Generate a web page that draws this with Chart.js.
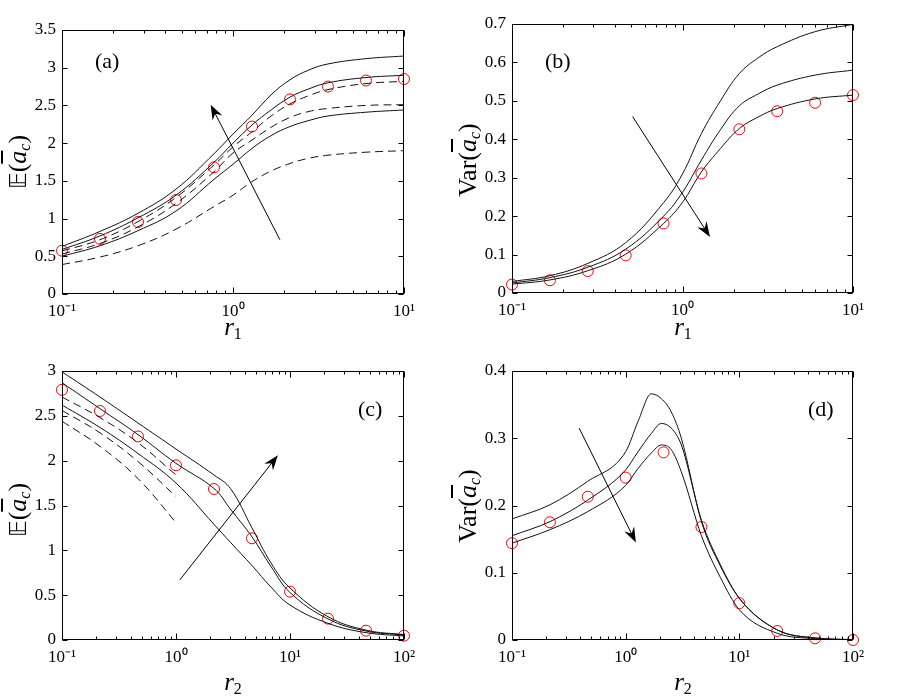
<!DOCTYPE html>
<html>
<head>
<meta charset="utf-8">
<script src="https://cdn.jsdelivr.net/npm/chart.js@4.4.1/dist/chart.umd.min.js"></script>
<style>
  body { margin: 0; background: #fff; }
  #wrap { position: relative; width: 900px; height: 698px; overflow: hidden; }
  canvas { position: absolute; }
  .lab { position: absolute; font-family: "Liberation Serif", "DejaVu Serif", serif; color: #000; white-space: nowrap; line-height: 1; }
  .yt { transform: translate(-50%, -50%) rotate(-90deg); font-size: 26px; }
  .xt { transform: translate(-50%, -50%); font-size: 25px; }
  .pl { font-size: 22px; }
  .bb { font-family: "DejaVu Sans", "DejaVu Serif", serif; font-size: 23px; }
  .ov { text-decoration: overline; font-style: italic; }
  sub { font-size: 16px; vertical-align: -4px; }
  sub.it { font-style: italic; }
</style>
</head>
<body>
<div id="wrap">
  <canvas id="pa" width="450" height="340" style="left:0;top:0"></canvas>
  <canvas id="pb" width="450" height="340" style="left:450px;top:0"></canvas>
  <canvas id="pc" width="450" height="358" style="left:0;top:340px"></canvas>
  <canvas id="pd" width="450" height="358" style="left:450px;top:340px"></canvas>

  <div class="lab yt" style="left:19px;top:162px"><span class="bb">𝔼</span>(<span class="ov">a</span><sub class="it">c</sub>)</div>
  <div class="lab yt" style="left:469px;top:160px">Var(<span class="ov">a</span><sub class="it">c</sub>)</div>
  <div class="lab yt" style="left:19px;top:510px"><span class="bb">𝔼</span>(<span class="ov">a</span><sub class="it">c</sub>)</div>
  <div class="lab yt" style="left:469px;top:506px">Var(<span class="ov">a</span><sub class="it">c</sub>)</div>

  <div class="lab xt" style="left:233px;top:328px"><i>r</i><sub>1</sub></div>
  <div class="lab xt" style="left:683px;top:328px"><i>r</i><sub>1</sub></div>
  <div class="lab xt" style="left:233px;top:683px"><i>r</i><sub>2</sub></div>
  <div class="lab xt" style="left:683px;top:683px"><i>r</i><sub>2</sub></div>

  <div class="lab pl" style="left:95px;top:50px">(a)</div>
  <div class="lab pl" style="left:545px;top:50px">(b)</div>
  <div class="lab pl" style="left:358px;top:398px">(c)</div>
  <div class="lab pl" style="left:808px;top:398px">(d)</div>
</div>

<script>
// ---- data: top row, sweep in r1 ----
const r1Marks = [0.1, 0.1668, 0.2783, 0.4642, 0.7743, 1.2915, 2.1544, 3.5938, 5.9948, 10];
const r1Curve = [0.1, 0.1668, 0.2783, 0.4642, 0.7743, 1.0, 1.2915, 1.67, 2.1544, 2.78, 3.5938, 5.9948, 10];

// (a) mean
const aMarks  = [0.574, 0.73, 0.955, 1.246, 1.68, 2.22, 2.58, 2.75, 2.83, 2.85];
const aSolid1 = [0.63, 0.83, 1.07, 1.39, 1.86, 2.12, 2.37, 2.64, 2.84, 2.97, 3.05, 3.12, 3.155];
const aSolid2 = [0.59, 0.77, 1.01, 1.31, 1.745, 2.0, 2.24, 2.44, 2.61, 2.72, 2.80, 2.87, 2.90];
const aSolid3 = [0.50, 0.64, 0.84, 1.10, 1.52, 1.72, 1.93, 2.10, 2.22, 2.30, 2.36, 2.41, 2.44];
const aDash1  = [0.57, 0.72, 0.96, 1.28, 1.71, 1.95, 2.15, 2.36, 2.52, 2.63, 2.71, 2.79, 2.82];
const aDash2  = [0.53, 0.67, 0.89, 1.20, 1.62, 1.87, 2.04, 2.21, 2.34, 2.42, 2.46, 2.50, 2.51];
const aDash3  = [0.39, 0.49, 0.64, 0.86, 1.16, 1.31, 1.49, 1.63, 1.73, 1.80, 1.84, 1.88, 1.90];

// (b) variance
const bMarks  = [0.022, 0.033, 0.057, 0.098, 0.181, 0.311, 0.426, 0.473, 0.495, 0.515];
const bSolid1 = [0.030, 0.045, 0.077, 0.131, 0.235, 0.310, 0.415, 0.500, 0.571, 0.612, 0.641, 0.680, 0.699];
const bSolid2 = [0.026, 0.040, 0.067, 0.114, 0.200, 0.262, 0.346, 0.425, 0.487, 0.518, 0.541, 0.567, 0.580];
const bSolid3 = [0.023, 0.034, 0.058, 0.101, 0.181, 0.236, 0.315, 0.376, 0.428, 0.458, 0.480, 0.505, 0.515];

// ---- data: bottom row, sweep in r2 ----
const r2Marks = [0.1, 0.2154, 0.4642, 1, 2.1544, 4.6416, 10, 21.544, 46.416, 100];
const r2CurveC = [0.1, 0.2154, 0.4642, 1, 2.1544, 3.0, 4.6416, 6.81, 10, 21.544, 46.416, 100];
const r2DashC = [0.1, 0.2154, 0.4642, 1];
const r2CurveD = [0.1, 0.2154, 0.4642, 1, 1.285, 1.68, 2.06, 2.52, 3.09, 4.6416, 6.81, 10, 21.544, 46.416, 100];

// (c) mean
const cMarks  = [2.79, 2.554, 2.27, 1.948, 1.684, 1.134, 0.539, 0.238, 0.104, 0.048];
const cSolid1 = [2.99, 2.71, 2.42, 2.13, 1.84, 1.69, 1.25, 0.86, 0.58, 0.26, 0.11, 0.06];
const cSolid2 = [2.87, 2.58, 2.29, 1.97, 1.69, 1.46, 1.15, 0.82, 0.53, 0.235, 0.10, 0.055];
const cSolid3 = [2.62, 2.37, 2.08, 1.75, 1.29, 1.09, 0.83, 0.59, 0.39, 0.186, 0.082, 0.045];
const cDash1  = [2.71, 2.48, 2.20, 1.84];
const cDash2  = [2.56, 2.31, 1.99, 1.60];
const cDash3  = [2.44, 2.16, 1.80, 1.31];

// (d) variance
const dMarks  = [0.144, 0.175, 0.213, 0.2415, 0.279, 0.168, 0.0547, 0.0134, 0.0025, 0.0];
const dSolid1 = [0.180, 0.201, 0.236, 0.280, 0.325, 0.366, 0.359, 0.339, 0.300, 0.176, 0.110, 0.062, 0.015, 0.003, 0.0005];
const dSolid2 = [0.155, 0.176, 0.208, 0.253, 0.280, 0.307, 0.322, 0.315, 0.290, 0.178, 0.112, 0.062, 0.015, 0.003, 0.0005];
const dSolid3 = [0.144, 0.164, 0.191, 0.230, 0.255, 0.278, 0.290, 0.283, 0.250, 0.155, 0.093, 0.045, 0.010, 0.002, 0.0003];

// arrows (data coordinates, tail -> head)
const arrowA = { x1: 1.88, y1: 0.72, x2: 0.74, y2: 2.51 };
const arrowB = { x1: 0.51, y1: 0.459, x2: 1.45, y2: 0.146 };
const arrowC = { x1: 1.08, y1: 0.67, x2: 7.83, y2: 2.06 };
const arrowD = { x1: 0.39, y1: 0.315, x2: 1.23, y2: 0.145 };

const FONT = 'Liberation Serif';
const SUP = { '-': '\u207B', '0': '\u2070', '1': '\u00B9', '2': '\u00B2', '3': '\u00B3' };

const pts = (xs, ys) => xs.map((x, i) => ({ x: x, y: ys[i] }));

function curve(xs, ys, dashed, mono) {
    return {
        data: pts(xs, ys),
        borderColor: '#111',
        borderWidth: 1,
        borderDash: dashed ? [8, 5] : [],
        pointRadius: 0,
        tension: 0.4,
        cubicInterpolationMode: mono ? 'monotone' : 'default',
        fill: false
    };
}

function marks(xs, ys) {
    return {
        data: pts(xs, ys),
        showLine: false,
        borderColor: '#ff0000',
        pointStyle: 'circle',
        pointRadius: 5.5,
        pointBorderColor: '#ff0000',
        pointBackgroundColor: 'rgba(0,0,0,0)',
        pointBorderWidth: 1,
        clip: false
    };
}

function tenLabel(v) {
    const e = Math.round(Math.log10(v));
    return '10' + String(e).split('').map(c => SUP[c]).join('');
}

// box around the plot with inward ticks, like the original figure
const framePlugin = {
    id: 'frame',
    afterDraw(chart) {
        const { ctx, chartArea: a, scales } = chart;
        const x = scales.x, y = scales.y;
        const L = Math.round(a.left) + 0.5, R = Math.round(a.right) - 0.5;
        const T = Math.round(a.top) + 0.5, B = Math.round(a.bottom) - 0.5;
        ctx.save();
        ctx.strokeStyle = '#000';
        ctx.lineWidth = 1;
        ctx.beginPath();
        y.ticks.forEach(t => {
            const py = Math.round(y.getPixelForValue(t.value)) + 0.5;
            ctx.moveTo(L, py); ctx.lineTo(L + 5, py);
            ctx.moveTo(R, py); ctx.lineTo(R - 5, py);
        });
        const d0 = Math.floor(Math.log10(x.min) + 1e-9), d1 = Math.ceil(Math.log10(x.max) - 1e-9);
        for (let d = d0; d <= d1; d++) {
            for (let m = 1; m <= 9; m++) {
                const v = m * Math.pow(10, d);
                if (v < x.min * 0.999 || v > x.max * 1.001) continue;
                const px = Math.round(x.getPixelForValue(v)) + 0.5;
                const len = m === 1 ? 6 : 3;
                ctx.moveTo(px, B); ctx.lineTo(px, B - len);
                ctx.moveTo(px, T); ctx.lineTo(px, T + len);
            }
        }
        ctx.stroke();
        ctx.strokeRect(L, T, R - L, B - T);
        ctx.restore();
    }
};

const arrowPlugin = {
    id: 'arrow',
    afterDatasetsDraw(chart, args, opts) {
        if (!opts || opts.x1 === undefined) return;
        const { ctx, scales: { x, y } } = chart;
        const ax = x.getPixelForValue(opts.x1), ay = y.getPixelForValue(opts.y1);
        const bx = x.getPixelForValue(opts.x2), by = y.getPixelForValue(opts.y2);
        const ang = Math.atan2(by - ay, bx - ax);
        const len = 15, half = 5.5, notch = 5;
        ctx.save();
        ctx.strokeStyle = '#000';
        ctx.fillStyle = '#000';
        ctx.lineWidth = 1;
        ctx.beginPath();
        ctx.moveTo(ax, ay);
        ctx.lineTo(bx - Math.cos(ang) * notch, by - Math.sin(ang) * notch);
        ctx.stroke();
        ctx.translate(bx, by);
        ctx.rotate(ang);
        ctx.beginPath();
        ctx.moveTo(0, 0);
        ctx.lineTo(-len, -half);
        ctx.lineTo(-len + notch, 0);
        ctx.lineTo(-len, half);
        ctx.closePath();
        ctx.fill();
        ctx.restore();
    }
};

function makeChart(id, o) {
    return new Chart(document.getElementById(id), {
        type: 'line',
        data: { datasets: o.datasets },
        options: {
            responsive: false,
            animation: false,
            devicePixelRatio: 1,
            layout: { padding: { top: o.top, right: o.right, left: 0, bottom: 0 } },
            plugins: {
                legend: { display: false },
                tooltip: { enabled: false },
                arrow: o.arrow
            },
            scales: {
                x: {
                    type: 'logarithmic',
                    min: o.xMin,
                    max: o.xMax,
                    grid: { display: false, drawTicks: false },
                    border: { display: false },
                    afterBuildTicks: s => {
                        const out = [];
                        for (let v = o.xMin; v <= o.xMax * 1.001; v *= 10) out.push({ value: v });
                        s.ticks = out;
                    },
                    ticks: {
                        autoSkip: false,
                        maxRotation: 0,
                        padding: 7,
                        color: '#000',
                        font: { family: FONT, size: 17 },
                        callback: v => tenLabel(v)
                    },
                    afterFit: s => { s.height = o.xH; }
                },
                y: {
                    type: 'linear',
                    min: 0,
                    max: o.yMax,
                    grid: { display: false, drawTicks: false },
                    border: { display: false },
                    ticks: {
                        stepSize: o.step,
                        padding: 6,
                        color: '#000',
                        font: { family: FONT, size: 17 },
                        callback: v => String(+v.toFixed(2))
                    },
                    afterFit: s => { s.width = 62; }
                }
            }
        },
        plugins: [framePlugin, arrowPlugin]
    });
}

document.addEventListener('DOMContentLoaded', () => {
    makeChart('pa', {
        top: 30, right: 46, xH: 46, xMin: 0.1, xMax: 10, yMax: 3.5, step: 0.5, arrow: arrowA,
        datasets: [
            curve(r1Curve, aSolid1), curve(r1Curve, aSolid2), curve(r1Curve, aSolid3),
            curve(r1Curve, aDash1, true), curve(r1Curve, aDash2, true), curve(r1Curve, aDash3, true),
            marks(r1Marks, aMarks)
        ]
    });
    makeChart('pb', {
        top: 24, right: 47, xH: 47, xMin: 0.1, xMax: 10, yMax: 0.7, step: 0.1, arrow: arrowB,
        datasets: [
            curve(r1Curve, bSolid1), curve(r1Curve, bSolid2), curve(r1Curve, bSolid3),
            marks(r1Marks, bMarks)
        ]
    });
    makeChart('pc', {
        top: 31, right: 46, xH: 58, xMin: 0.1, xMax: 100, yMax: 3, step: 0.5, arrow: arrowC,
        datasets: [
            curve(r2CurveC, cSolid1), curve(r2CurveC, cSolid2), curve(r2CurveC, cSolid3),
            curve(r2DashC, cDash1, true), curve(r2DashC, cDash2, true), curve(r2DashC, cDash3, true),
            marks(r2Marks, cMarks)
        ]
    });
    makeChart('pd', {
        top: 31, right: 47, xH: 58, xMin: 0.1, xMax: 100, yMax: 0.4, step: 0.1, arrow: arrowD,
        datasets: [
            curve(r2CurveD, dSolid1, false, true), curve(r2CurveD, dSolid2, false, true), curve(r2CurveD, dSolid3, false, true),
            marks(r2Marks, dMarks)
        ]
    });
});
</script>
</body>
</html>
